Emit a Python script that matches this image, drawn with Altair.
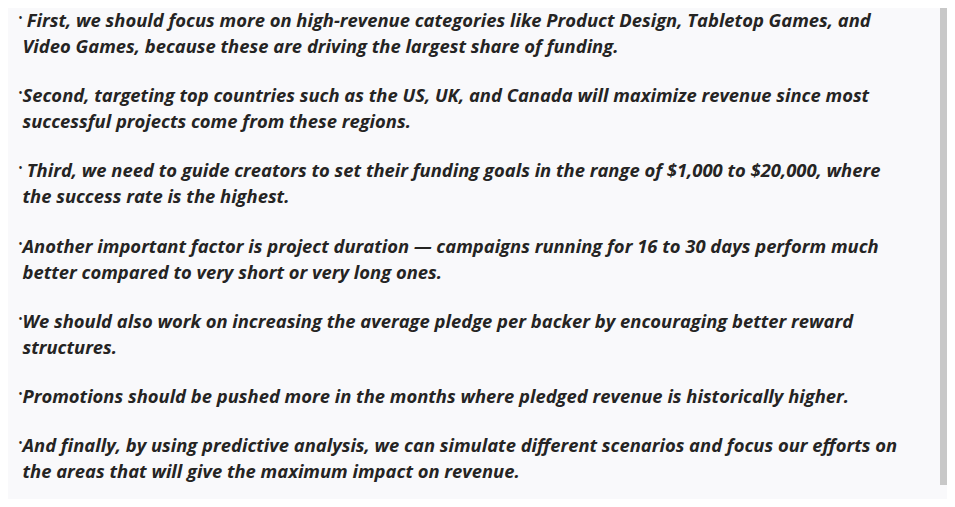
import pandas as pd
import altair as alt

paragraphs = [
    [" First, we should focus more on high-revenue categories like Product Design, Tabletop Games, and",
     "Video Games, because these are driving the largest share of funding."],
    ["Second, targeting top countries such as the US, UK, and Canada will maximize revenue since most",
     "successful projects come from these regions."],
    [" Third, we need to guide creators to set their funding goals in the range of $1,000 to $20,000, where",
     "the success rate is the highest."],
    ["Another important factor is project duration \u2014 campaigns running for 16 to 30 days perform much",
     "better compared to very short or very long ones."],
    ["We should also work on increasing the average pledge per backer by encouraging better reward",
     "structures."],
    ["Promotions should be pushed more in the months where pledged revenue is historically higher."],
    ["And finally, by using predictive analysis, we can simulate different scenarios and focus our efforts on",
     "the areas that will give the maximum impact on revenue."],
]

rows = []
bullets = []
n = 0
for p, lines in enumerate(paragraphs):
    bullets.append({"txt": "\u2022", "kind": "bullet", "row": n + p * 0.88})
    for i, line in enumerate(lines):
        kind = "first_indent" if (i == 0 and line.startswith(" ")) else "text"
        rows.append({"txt": line.strip(), "kind": kind, "row": n + p * 0.88})
        n += 1
df = pd.DataFrame(rows)
bdf = pd.DataFrame(bullets)

W, H = 939, 491
xs = alt.Scale(domain=["bullet", "text", "first_indent"], range=[8, 21, 30])
ys = alt.Scale(domain=[0, 18], range=[13, 13 + 18 * 26.1])

text = alt.Chart(df).mark_text(
    align="left", baseline="middle", font="Open Sans", fontSize=18.4,
    fontStyle="italic", fontWeight="bold", color="#252423"
).encode(
    x=alt.X("kind:N", scale=xs, axis=None),
    y=alt.Y("row:Q", scale=ys, axis=None),
    text="txt:N",
)

dots = alt.Chart(bdf).mark_text(
    align="left", baseline="middle", font="Open Sans", fontSize=12,
    color="#252423", dy=-3
).encode(
    x=alt.X("kind:N", scale=xs, axis=None),
    y=alt.Y("row:Q", scale=ys, axis=None),
    text="txt:N",
)

bar = alt.Chart(pd.DataFrame({"a": [0]})).mark_rect(color="#c8c8c8").encode(
    x=alt.value(932), x2=alt.value(942), y=alt.value(0), y2=alt.value(477)
)

chart = (bar + dots + text).properties(
    width=W, height=H, autosize="none", padding=0, background="#f9f9fb"
).configure_view(stroke=None)

chart.save("out.html", embed_options={"renderer": "svg", "actions": False})
